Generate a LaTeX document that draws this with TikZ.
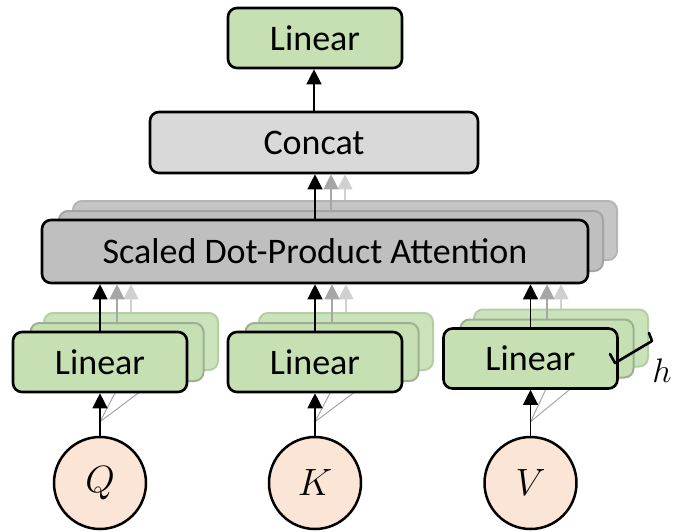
\documentclass[tikz,border=0pt]{standalone}
\usepackage{fix-cm}
\usepackage{fontspec}
\setmainfont{Carlito}
\usetikzlibrary{arrows.meta,calc}
\definecolor{lgreen}{HTML}{C6E0B4}
\definecolor{lgreenb}{HTML}{CBE3BA}
\definecolor{greenedge}{HTML}{9DAF91}
\definecolor{greenedgeb}{HTML}{B6CEA6}
\definecolor{peach}{HTML}{FBE5D6}
\definecolor{concatgray}{HTML}{D9D9D9}
\definecolor{sdpagray}{HTML}{BFBFBF}
\definecolor{sdpagrayb}{HTML}{C5C5C5}
\definecolor{sdpaedge}{HTML}{A3A3A3}
\definecolor{sdpaedgeb}{HTML}{B5B5B5}
\definecolor{arrgray}{HTML}{A6A6A6}
\definecolor{arrlight}{HTML}{D0D0D0}
\pgfdeclarelayer{bg}
\pgfsetlayers{bg,main}
\begin{document}
\begin{tikzpicture}[x=1pt,y=-1pt,
  box/.style={draw=black,line width=2.6pt,rounded corners=9pt,inner sep=0pt,
    font=\fontsize{36}{43}\selectfont},
  linbox/.style={box,fill=lgreen,minimum width=174pt,minimum height=60pt},
  linback/.style={linbox,fill=lgreen,draw=greenedge,line width=2pt,minimum width=173pt,minimum height=58pt},
  linbackb/.style={linbox,fill=lgreenb,draw=greenedgeb,line width=2pt,minimum width=174pt,minimum height=57pt},
  sdpaback/.style={box,fill=sdpagray,draw=sdpaedge,line width=2pt,minimum width=544pt,minimum height=60pt},
  sdpabackb/.style={box,fill=sdpagrayb,draw=sdpaedgeb,line width=2pt,minimum width=544pt,minimum height=59pt},
  inp/.style={circle,draw=black,line width=2.5pt,fill=peach,minimum size=92pt,inner sep=0pt,
    font=\fontsize{38}{45}\selectfont},
  arr/.style={line width=1.3pt,draw=black,-{Triangle[length=15pt,width=15pt]}},
  arrg/.style={line width=1.1pt,draw=arrgray,-{Triangle[length=15pt,width=15pt]}},
  arrl/.style={line width=1.1pt,draw=arrlight,-{Triangle[length=15pt,width=15pt]}},
  branch/.style={line width=1pt,draw=arrgray},
]
\useasboundingbox (0,0) rectangle (674,531);

% top linear and concat
\node[box,fill=lgreen,minimum width=174pt,minimum height=60pt] (lintop) at (315,38) {Linear};
\node[box,fill=concatgray,minimum width=328pt,minimum height=61pt] (concat) at (314,142.5) {Concat};

% scaled dot-product attention stack
\node[sdpabackb] (sdpa3) at (345,230.5) {};
\node[sdpaback] (sdpa2) at (331,241) {};
\node[box,fill=sdpagray,minimum width=546pt,minimum height=63pt] (sdpa) at (315,251.5) {Scaled Dot-Product Attention};

% linear stacks
\node[linbackb] (linq3) at (131,341.5) {};
\node[linback] (linq2) at (117,352) {};
\node[linbox] (linq) at (100,362) {Linear};

\node[linbackb] (link3) at (346,341.5) {};
\node[linback] (link2) at (332,352) {};
\node[linbox] (link) at (315,362) {Linear};

\node[linbackb] (linv3) at (561,338) {};
\node[linback] (linv2) at (547,348.5) {};
\node[linbox] (linv) at (530.5,358.5) {Linear};

% inputs
\node[inp] (q) at (100,483) {$Q$};
\node[inp] (k) at (315,483) {$K$};
\node[inp] (v) at (530.5,483) {$V$};

% branch lines (hidden under the front boxes)
\coordinate (qb) at ($(q.north)+(0,-14)$);
\coordinate (kb) at ($(k.north)+(0,-14)$);
\coordinate (vb) at ($(v.north)+(0,-14)$);
\begin{pgfonlayer}{bg}
\draw[branch] (qb) -- ($(linq.south)+(18,-6)$);
\draw[branch] (qb) -- ($(linq.south)+(46,-6)$);
\draw[branch] (kb) -- ($(link.south)+(18,-6)$);
\draw[branch] (kb) -- ($(link.south)+(46,-6)$);
\draw[branch] (vb) -- ($(linv.south)+(18,-6)$);
\draw[branch] (vb) -- ($(linv.south)+(46,-6)$);
\end{pgfonlayer}

% input arrows
\draw[arr] (q.north) -- (linq.south);
\draw[arr] (k.north) -- (link.south);
\draw[arr] (v.north) -- (v.north |- linv.south);

% linear -> sdpa
\draw[arrl] (linq3.north) -- (linq3.north |- sdpa.south);
\draw[arrg] (linq2.north) -- (linq2.north |- sdpa.south);
\draw[arr] (linq.north) -- (linq.north |- sdpa.south);
\draw[arrl] (link3.north) -- (link3.north |- sdpa.south);
\draw[arrg] (link2.north) -- (link2.north |- sdpa.south);
\draw[arr] (link.north) -- (link.north |- sdpa.south);
\draw[arrl] (linv3.north) -- (linv3.north |- sdpa.south);
\draw[arrg] (linv2.north) -- (linv2.north |- sdpa.south);
\draw[arr] (linv.north) -- (linv.north |- sdpa.south);

% sdpa -> concat
\draw[arrl] (sdpa3.north) -- (sdpa3.north |- concat.south);
\draw[arrg] (sdpa2.north) -- (sdpa2.north |- concat.south);
\draw[arr] (sdpa.north) -- (sdpa.north |- concat.south);

% concat -> linear
\draw[arr] (concat.north) -- (concat.north |- lintop.south);

% h bracket
\draw[line width=2.6pt,line cap=round,line join=round] (610,354) -- (615,363) -- (652,341) -- (649,333);
\node[font=\fontsize{34}{41}\selectfont,inner sep=0pt] (hlab) at (662,371) {$h$};
\end{tikzpicture}
\end{document}
